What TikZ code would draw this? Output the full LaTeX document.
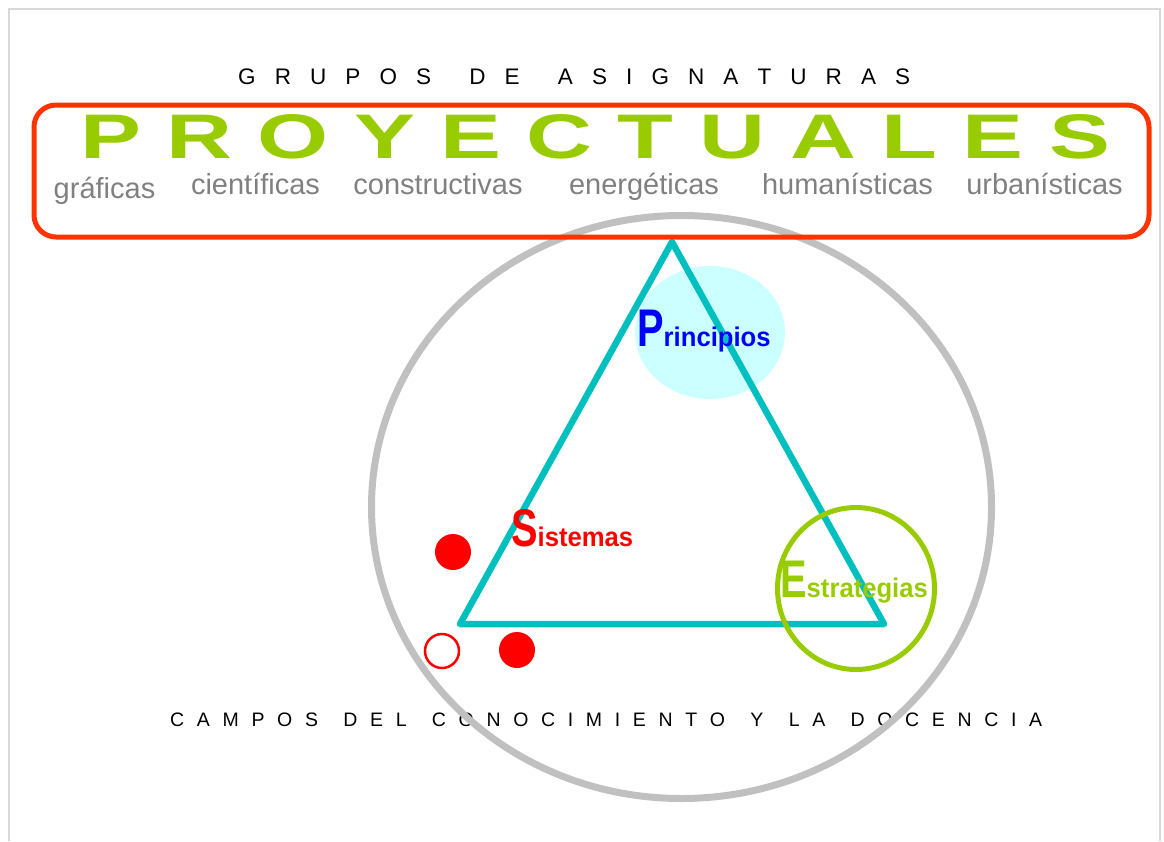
\documentclass[tikz,border=0pt]{standalone}
\usepackage{fontspec}
\setmainfont{Liberation Sans}
\newfontfamily\widefont{Liberation Sans}[FakeStretch=1.45]
\newfontfamily\labfont{Liberation Sans}[FakeStretch=0.95]
\newfontfamily\capfont{Liberation Sans}[FakeStretch=0.75]
\usetikzlibrary{shapes.geometric}
\definecolor{framegray}{HTML}{D9D9D9}
\definecolor{circgray}{HTML}{C0C0C0}
\definecolor{tealline}{HTML}{00BFBF}
\definecolor{cyanfill}{HTML}{CCFFFF}
\definecolor{lime}{HTML}{99CC00}
\definecolor{boxred}{HTML}{FF3300}
\definecolor{labgray}{HTML}{808080}
\definecolor{pureblue}{HTML}{0000FF}
\definecolor{purered}{HTML}{FF0000}
\tikzset{
  frameline/.style={draw=framegray, line width=1.5pt},
  bigcircle/.style={ellipse, draw=circgray, line width=7pt, inner sep=0pt},
  softblob/.style={ellipse, fill=cyanfill, inner sep=0pt},
  triline/.style={draw=tealline, line width=6.5pt, line join=round},
  ring/.style={ellipse, draw=lime, line width=5pt, inner sep=0pt},
  redbox/.style={draw=boxred, line width=5pt, rounded corners=22pt, inner sep=0pt},
  spaced/.style={inner sep=0pt, anchor=base west, text=black},
  subj/.style={inner sep=0pt, anchor=base, text=labgray, font=\fontsize{29}{29}\selectfont},
  concept/.style={inner sep=0pt, anchor=base west},
  fulldot/.style={circle, fill=purered, minimum size=36pt, inner sep=0pt},
  emptydot/.style={circle, draw=purered, line width=2.5pt, minimum size=34pt, inner sep=0pt},
}
\newcommand{\bigini}[1]{{\capfont\bfseries\fontsize{53}{53}\selectfont #1}}
\newcommand{\restword}[1]{{\labfont\bfseries\fontsize{27}{27}\selectfont #1}}
\begin{document}
\begin{tikzpicture}[x=1pt,y=-1pt]
\useasboundingbox (0,0) rectangle (1164,841);
% page frame
\coordinate (fbl) at (9,841);
\coordinate (ftl) at (9,9);
\coordinate (ftr) at (1160,9);
\coordinate (fbr) at (1160,841);
\draw[frameline] (fbl) -- (ftl) -- (ftr) -- (fbr);
% titles
\node[spaced, font=\fontsize{22.5}{22.5}\selectfont] (grupos) at (238,84)
  {\makebox[672pt][s]{G\hfil R\hfil U\hfil P\hfil O\hfil S\hfil\hfil D\hfil E\hfil\hfil A\hfil S\hfil I\hfil G\hfil N\hfil A\hfil T\hfil U\hfil R\hfil A\hfil S}};
\node[spaced, font=\fontsize{19.5}{19.5}\selectfont] (campos) at (170,726)
  {\makebox[872pt][s]{C\hfil A\hfil M\hfil P\hfil O\hfil S\hfil\hfil D\hfil E\hfil L\hfil\hfil C\hfil O\hfil N\hfil O\hfil C\hfil I\hfil M\hfil I\hfil E\hfil N\hfil T\hfil O\hfil\hfil Y\hfil\hfil L\hfil A\hfil\hfil D\hfil O\hfil C\hfil E\hfil N\hfil C\hfil I\hfil A}};
% big grey circle
\node[bigcircle, minimum width=620pt, minimum height=583pt] (field) at (681.5,507) {};
% light cyan blob
\node[softblob, minimum width=150pt, minimum height=133pt] (blob) at (710,332.5) {};
% triangle
\coordinate (apex) at (672,242);
\coordinate (bl) at (460,624);
\coordinate (br) at (884,624);
\draw[triline] (apex) -- (bl) -- (br) -- cycle;
% green ring
\node[ring, minimum width=157pt, minimum height=162pt] (ringe) at (856,588.5) {};
% concepts
\node[concept, text=pureblue] (princ) at (637,346) {\bigini{P}\restword{rincipios}};
\node[concept, text=purered] (sist) at (511,546) {\bigini{S}\restword{istemas}};
\node[concept, text=lime] (estr) at (780,597) {\bigini{E}\restword{strategias}};
% dots
\node[fulldot] (dota) at (453,552) {};
\node[emptydot] (dotb) at (442,651) {};
\node[fulldot] (dotc) at (517,650) {};
% red box and its texts
\node[redbox, minimum width=1115pt, minimum height=132pt] (box) at (591.5,171) {};
\node[inner sep=0pt, anchor=base west, text=lime, font=\widefont\bfseries\fontsize{63}{63}\selectfont] (proy) at (80,158)
  {\makebox[1030pt][s]{P\hfil R\hfil O\hfil Y\hfil E\hfil C\hfil T\hfil U\hfil A\hfil L\hfil E\hfil S}};
\node[subj] (s1) at (104.5,198) {gráficas};
\node[subj] (s2) at (255.5,194) {científicas};
\node[subj] (s3) at (438,194) {constructivas};
\node[subj] (s4) at (644,194) {energéticas};
\node[subj] (s5) at (847.5,194) {humanísticas};
\node[subj] (s6) at (1044.5,194) {urbanísticas};
\end{tikzpicture}
\end{document}
